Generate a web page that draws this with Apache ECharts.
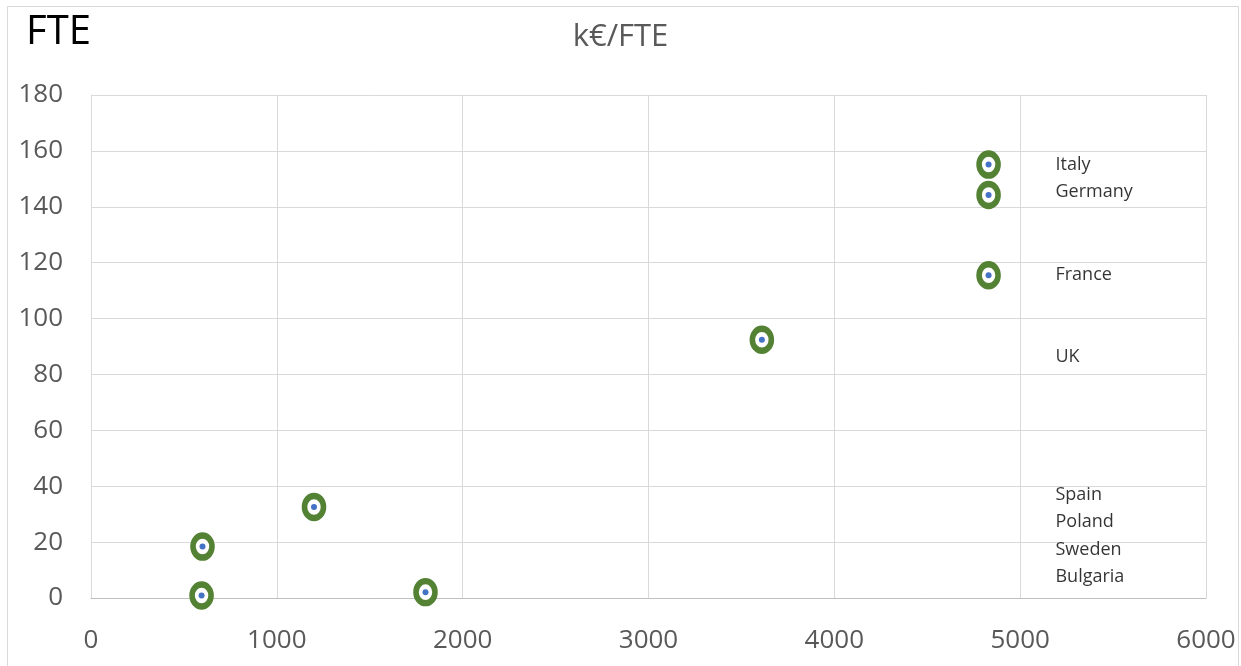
<!DOCTYPE html>
<html>
<head>
<meta charset="utf-8">
<script src="https://cdn.jsdelivr.net/npm/echarts@6/dist/echarts.min.js"></script>
<style>
html,body{margin:0;padding:0;background:#fff;}
#chart{width:1241px;height:666px;}
</style>
</head>
<body>
<div id="chart"></div>
<script>
// Data
var pointX = [600, 1200, 1800, 3610, 4830, 4830, 4830, 595];
var pointY = [18.4, 32.6, 2.1, 92.4, 155.1, 144.2, 115.5, 0.9];
var countryNames = ['Italy', 'Germany', 'France', 'UK', 'Spain', 'Poland', 'Sweden', 'Bulgaria'];
var countryLabelY = [155.1, 145.4, 115.5, 86.3, 37.0, 27.3, 17.3, 7.6];
var countryLabelX = 5190;
var xTicks = {min: 0, max: 6000, interval: 1000};
var yTicks = {min: 0, max: 180, interval: 20};

var points = pointX.map(function (x, i) { return [x, pointY[i]]; });
var labelPts = countryNames.map(function (n, i) { return {value: [countryLabelX, countryLabelY[i]], name: n}; });

var chart = echarts.init(document.getElementById('chart'));
var font = "'Open Sans', 'Noto Sans', sans-serif";
chart.setOption({
  animation: false,
  backgroundColor: '#fff',
  graphic: [
    {type: 'rect', shape: {x: 7.5, y: 6.5, width: 1231, height: 700}, style: {fill: 'none', stroke: '#d9d9d9', lineWidth: 1}, z: -1},
    {type: 'text', left: 26, top: 13, style: {text: 'FTE', font: '40px ' + font, fill: '#000'}},
    {type: 'text', left: 'center', top: 22, style: {text: 'k€/FTE', font: '31px ' + font, fill: '#595959'}}
  ],
  grid: {left: 91, right: 35, top: 95, bottom: 68},
  xAxis: {
    type: 'value', min: xTicks.min, max: xTicks.max, interval: xTicks.interval,
    axisLine: {show: true, lineStyle: {color: '#bfbfbf'}},
    axisTick: {show: false},
    axisLabel: {color: '#595959', fontSize: 26, fontFamily: font, margin: 30, formatter: function (v) { return String(v); }},
    splitLine: {show: true, lineStyle: {color: '#d9d9d9'}}
  },
  yAxis: {
    type: 'value', min: yTicks.min, max: yTicks.max, interval: yTicks.interval,
    axisLine: {show: true, lineStyle: {color: '#d9d9d9'}},
    axisTick: {show: false},
    axisLabel: {color: '#595959', fontSize: 26, fontFamily: font, margin: 28},
    splitLine: {show: true, lineStyle: {color: '#d9d9d9'}}
  },
  series: [
    {
      type: 'scatter', data: points, symbol: 'circle', symbolSize: [19, 22],
      itemStyle: {color: '#ffffff', borderColor: '#548235', borderWidth: 6, opacity: 1},
      z: 3
    },
    {
      type: 'scatter', data: points, symbol: 'circle', symbolSize: 6,
      itemStyle: {color: '#4472c4', opacity: 1},
      z: 4
    },
    {
      type: 'scatter', data: labelPts, symbolSize: 0,
      label: {show: true, position: 'right', distance: 0, formatter: '{b}', color: '#000', fontSize: 18, fontFamily: font},
      z: 5
    }
  ]
});
</script>
</body>
</html>
